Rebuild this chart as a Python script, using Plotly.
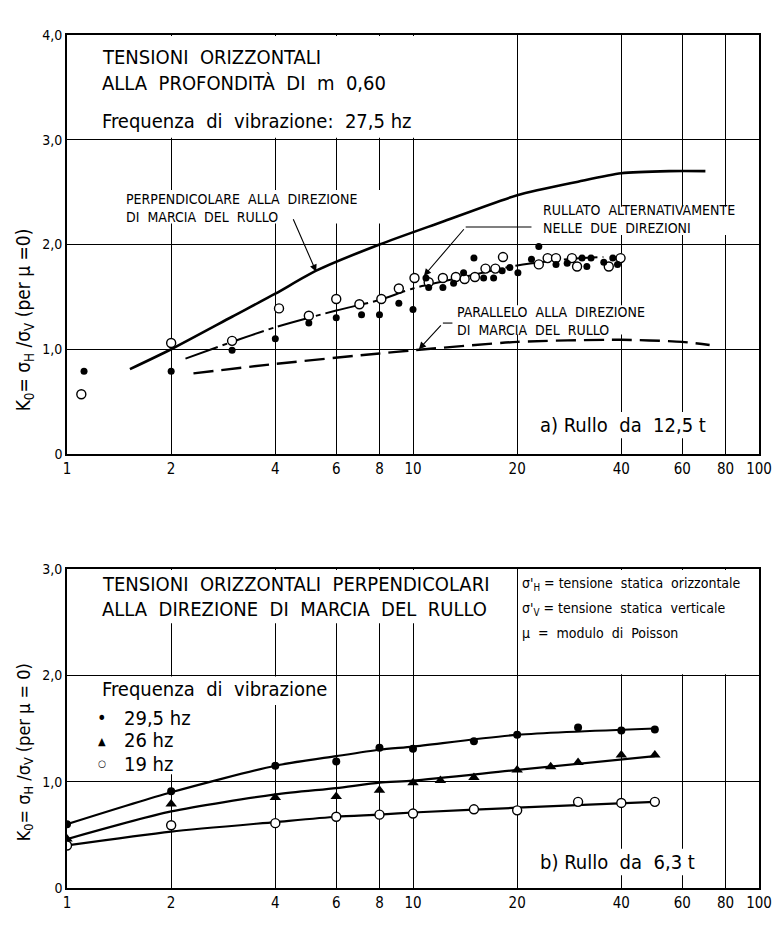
import numpy as np
import plotly.graph_objects as go

# ---------------- data : (a) Rullo da 12,5 t ----------------
perp_x = [1.52, 2, 3, 4, 5.25, 8, 12, 20, 30, 40, 55, 70]
perp_y = [0.81, 1.0, 1.31, 1.53, 1.75, 2.0, 2.21, 2.47, 2.60, 2.68, 2.70, 2.70]

alt_x = [2.2, 3, 4, 6, 8, 10, 14, 20, 28, 35.5]
alt_y = [0.91, 1.07, 1.21, 1.37, 1.47, 1.58, 1.69, 1.80, 1.86, 1.88]

par_x = [2.32, 4, 8, 10, 20, 40, 60, 72]
par_y = [0.77, 0.86, 0.96, 0.99, 1.07, 1.09, 1.07, 1.04]

open_x = [1.10, 2.0, 3.0, 4.1, 5.0, 6.0, 7.0, 8.1, 9.1, 10.1, 11.1, 12.2, 13.3, 14.1,
          15.1, 16.2, 17.3, 18.2, 23.1, 24.5, 25.9, 28.8, 29.8, 36.8, 39.8]
open_y = [0.57, 1.06, 1.08, 1.39, 1.32, 1.48, 1.43, 1.48, 1.58, 1.68, 1.64, 1.68, 1.69, 1.67,
          1.69, 1.77, 1.77, 1.88, 1.81, 1.87, 1.87, 1.87, 1.79, 1.79, 1.87]

fill_x = [1.12, 2.0, 3.0, 4.0, 5.0, 6.0, 7.1, 8.0, 9.1, 10.0, 10.9, 11.1, 12.2, 13.1, 14.0,
          15.0, 16.0, 17.1, 18.1, 19.05, 20.1, 22.0, 23.1, 25.9, 27.9, 30.8, 31.8, 32.7,
          35.6, 37.8, 39.0]
fill_y = [0.79, 0.79, 0.99, 1.10, 1.25, 1.30, 1.33, 1.33, 1.44, 1.38, 1.68, 1.59, 1.59, 1.63, 1.73,
          1.87, 1.68, 1.68, 1.75, 1.78, 1.73, 1.86, 1.98, 1.81, 1.82, 1.87, 1.79, 1.87,
          1.83, 1.87, 1.81]

# ---------------- data : (b) Rullo da 6,3 t ----------------
fit_x = [1, 2, 4, 6, 8, 10, 20, 50]
f295_line = [0.60, 0.90, 1.15, 1.24, 1.30, 1.33, 1.44, 1.50]
f26_line = [0.46, 0.72, 0.88, 0.94, 0.99, 1.01, 1.11, 1.24]
f19_line = [0.40, 0.53, 0.62, 0.67, 0.69, 0.71, 0.755, 0.81]

f295_x = [1, 2, 4, 6, 8, 10, 15, 20, 30, 40, 50]
f295_y = [0.60, 0.91, 1.15, 1.19, 1.32, 1.31, 1.38, 1.44, 1.51, 1.48, 1.49]
f26_x = [1, 2, 4, 6, 8, 10, 12, 15, 20, 25, 30, 40, 50]
f26_y = [0.46, 0.79, 0.85, 0.86, 0.92, 0.99, 1.01, 1.04, 1.11, 1.14, 1.18, 1.25, 1.25]
f19_x = [1, 2, 4, 6, 8, 10, 15, 20, 30, 40, 50]
f19_y = [0.40, 0.59, 0.61, 0.67, 0.69, 0.70, 0.74, 0.73, 0.81, 0.80, 0.81]

x_ticks = [1, 2, 4, 6, 8, 10, 20, 40, 60, 80, 100]
x_tick_text = ["1", "2", "4", "6", "8", "10", "20", "40", "60", "80", "100"]
ya_ticks = [0, 1, 2, 3, 4]
ya_text = ["0", "1,0", "2,0", "3,0", "4,0"]
yb_ticks = [0, 1, 2, 3]
yb_text = ["0", "1,0", "2,0", "3,0"]

F = "DejaVu Sans Condensed, Liberation Sans Narrow, DejaVu Sans, sans-serif"
K = "black"

fig = go.Figure()


def add_line(x, y, xa, ya, width, dash="solid"):
    fig.add_trace(go.Scatter(x=x, y=y, mode="lines", xaxis=xa, yaxis=ya,
                             line=dict(color=K, width=width, dash=dash, shape="spline", smoothing=0.7),
                             showlegend=False, hoverinfo="skip"))


def add_pts(x, y, xa, ya, symbol, size, fill, lw):
    fig.add_trace(go.Scatter(x=x, y=y, mode="markers", xaxis=xa, yaxis=ya,
                             marker=dict(symbol=symbol, size=size, color=fill,
                                         line=dict(color=K, width=lw)),
                             showlegend=False, hoverinfo="skip"))


# top chart
add_line(perp_x, perp_y, "x", "y", 2.6)
add_line(alt_x, alt_y, "x", "y", 2.0, "34px,5px,5px,5px")
add_line(par_x, par_y, "x", "y", 2.4, "20px,8px")
add_pts(open_x, open_y, "x", "y", "circle", 9, "white", 1.4)
add_pts(fill_x, fill_y, "x", "y", "circle", 7, K, 0)

# bottom chart
add_line(fit_x, f295_line, "x2", "y2", 2.2)
add_line(fit_x, f26_line, "x2", "y2", 2.2)
add_line(fit_x, f19_line, "x2", "y2", 2.2)
add_pts(f295_x, f295_y, "x2", "y2", "circle", 8, K, 0)
add_pts(f26_x, f26_y, "x2", "y2", "triangle-up", 10, K, 0)
add_pts(f19_x, f19_y, "x2", "y2", "circle", 9, "white", 1.4)

ax_common = dict(type="log", range=[0, 2], tickvals=x_ticks, ticktext=x_tick_text,
                 showgrid=True, gridcolor=K, gridwidth=1, showline=True, mirror=True,
                 linecolor=K, linewidth=1.6, ticks="", zeroline=False,
                 tickfont=dict(family=F, size=15, color=K))
ay_common = dict(showgrid=True, gridcolor=K, gridwidth=1, showline=True, mirror=True,
                 linecolor=K, linewidth=1.6, ticks="", zeroline=False,
                 tickfont=dict(family=F, size=14, color=K))

fig.update_layout(
    width=784, height=937,
    margin=dict(l=67, r=18, t=35, b=49),
    paper_bgcolor="white", plot_bgcolor="white",
    xaxis=dict(domain=[0, 1], anchor="y", **ax_common),
    yaxis=dict(domain=[0.5088, 1], anchor="x", range=[0, 4], tickvals=ya_ticks, ticktext=ya_text, **ay_common),
    xaxis2=dict(domain=[0, 1], anchor="y2", **ax_common),
    yaxis2=dict(domain=[0, 0.374], anchor="x2", range=[0, 3], tickvals=yb_ticks, ticktext=yb_text, **ay_common),
)


def cover(xr, yr, x0, x1, y0, y1):
    return dict(type="rect", xref=xr, yref=yr, x0=x0, x1=x1, y0=y0, y1=y1,
                fillcolor="white", line=dict(width=0), layer="between")


shapes = [
    cover("x", "y", 1, 14, 3.02, 3.99),
    cover("x", "y", 1.45, 9.0, 2.20, 2.52),
    cover("x", "y", 23.0, 90, 2.09, 2.36),
    cover("x", "y", 13.2, 47.6, 1.14, 1.42),
    cover("x", "y", 22.9, 66.5, 0.15, 0.40),
    cover("x2", "y2", 1, 19.5, 2.49, 2.99),
    cover("x2", "y2", 20.4, 99, 2.01, 2.99),
    cover("x2", "y2", 1, 5.5, 1.72, 1.99),
    cover("x2", "y2", 1, 2.6, 1.07, 1.72),
    cover("x2", "y2", 22.9, 64, 0.12, 0.37),
    # leader line horizontal parts
    dict(type="line", xref="x", yref="y", x0=14.2, x1=22.0, y0=2.167, y1=2.167,
         line=dict(color=K, width=1.1)),
    dict(type="line", xref="x", yref="y", x0=12.2, x1=13.0, y0=1.25, y1=1.25,
         line=dict(color=K, width=1.1)),
]
fig.update_layout(shapes=shapes)

L = np.log10
ann = []


def txt(text, x, y, xr="x", yr="y", size=20, xanchor="left", yanchor="middle", angle=0, align="left"):
    ann.append(dict(text=text, x=x, y=y, xref=xr, yref=yr, showarrow=False,
                    xanchor=xanchor, yanchor=yanchor, textangle=angle, align=align,
                    font=dict(family=F, size=size, color=K)))


def arrow(x, y, ax, ay, xr="x", yr="y"):
    ann.append(dict(text=" ", x=x, y=y, xref=xr, yref=yr, ax=ax, ay=ay, showarrow=True,
                    arrowhead=2, arrowsize=1.3, arrowwidth=1.1, arrowcolor=K, standoff=0,
                    font=dict(family=F, size=2, color=K)))


# top chart texts
txt("TENSIONI  ORIZZONTALI", 0.094, 3.79, size=20)
txt("ALLA  PROFONDITÀ  DI  m  0,60", 0.094, 3.54, size=20)
txt("Frequenza  di  vibrazione:  27,5 hz", 0.094, 3.18, size=20)
txt("PERPENDICOLARE  ALLA  DIREZIONE<br>DI  MARCIA  DEL  RULLO", 0.166, 2.35, size=14)
txt("RULLATO  ALTERNATIVAMENTE<br>NELLE  DUE  DIREZIONI", 1.369, 2.24, size=14)
txt("PARALLELO  ALLA  DIREZIONE<br>DI  MARCIA  DEL  RULLO", 1.12, 1.27, size=14)
txt("a) Rullo  da  12,5 t", 1.36, 0.28, size=20)
arrow(L(5.25), 1.74, -24, -55)
arrow(L(10.75), 1.70, 42, -49)
arrow(L(10.4), 1.00, 24, -26)
txt("NUMERO  DI  PASSATE", 0.691, -0.372, size=20, xanchor="center")
txt("K<sub>0</sub>= σ<sub>H</sub> /σ<sub>V</sub> (per μ =0)", -0.0615, 1.28, xr="paper",
    size=19, xanchor="center", angle=-90)

# bottom chart texts
txt("TENSIONI  ORIZZONTALI  PERPENDICOLARI", 0.094, 2.86, "x2", "y2", size=20)
txt("ALLA  DIREZIONE  DI  MARCIA  DEL  RULLO", 0.094, 2.62, "x2", "y2", size=20)
txt("σ'<sub>H</sub> = tensione  statica  orizzontale", 1.309, 2.86, "x2", "y2", size=14)
txt("σ'<sub>V</sub> = tensione  statica  verticale", 1.309, 2.62, "x2", "y2", size=14)
txt("μ  =  modulo  di  Poisson", 1.309, 2.40, "x2", "y2", size=14)
txt("Frequenza  di  vibrazione", 0.094, 1.87, "x2", "y2", size=20)
txt("•", 0.10, 1.60, "x2", "y2", size=18, xanchor="center")
txt("▲", 0.10, 1.38, "x2", "y2", size=11, xanchor="center")
txt("○", 0.10, 1.17, "x2", "y2", size=10, xanchor="center")
txt("29,5 hz", 0.16, 1.60, "x2", "y2", size=20)
txt("26 hz", 0.16, 1.39, "x2", "y2", size=20)
txt("19 hz", 0.16, 1.17, "x2", "y2", size=20)
txt("b) Rullo  da  6,3 t", 1.36, 0.245, "x2", "y2", size=20)
txt("NUMERO  DI  PASSATE", 0.926, -0.377, "x2", "y2", size=20, xanchor="center")
txt("K<sub>0</sub>= σ<sub>H</sub> /σ<sub>V</sub> (per μ = 0)", -0.0615, 1.28, xr="paper", yr="y2",
    size=18, xanchor="center", angle=-90)

fig.update_layout(annotations=ann)
fig.write_html("out.html")
